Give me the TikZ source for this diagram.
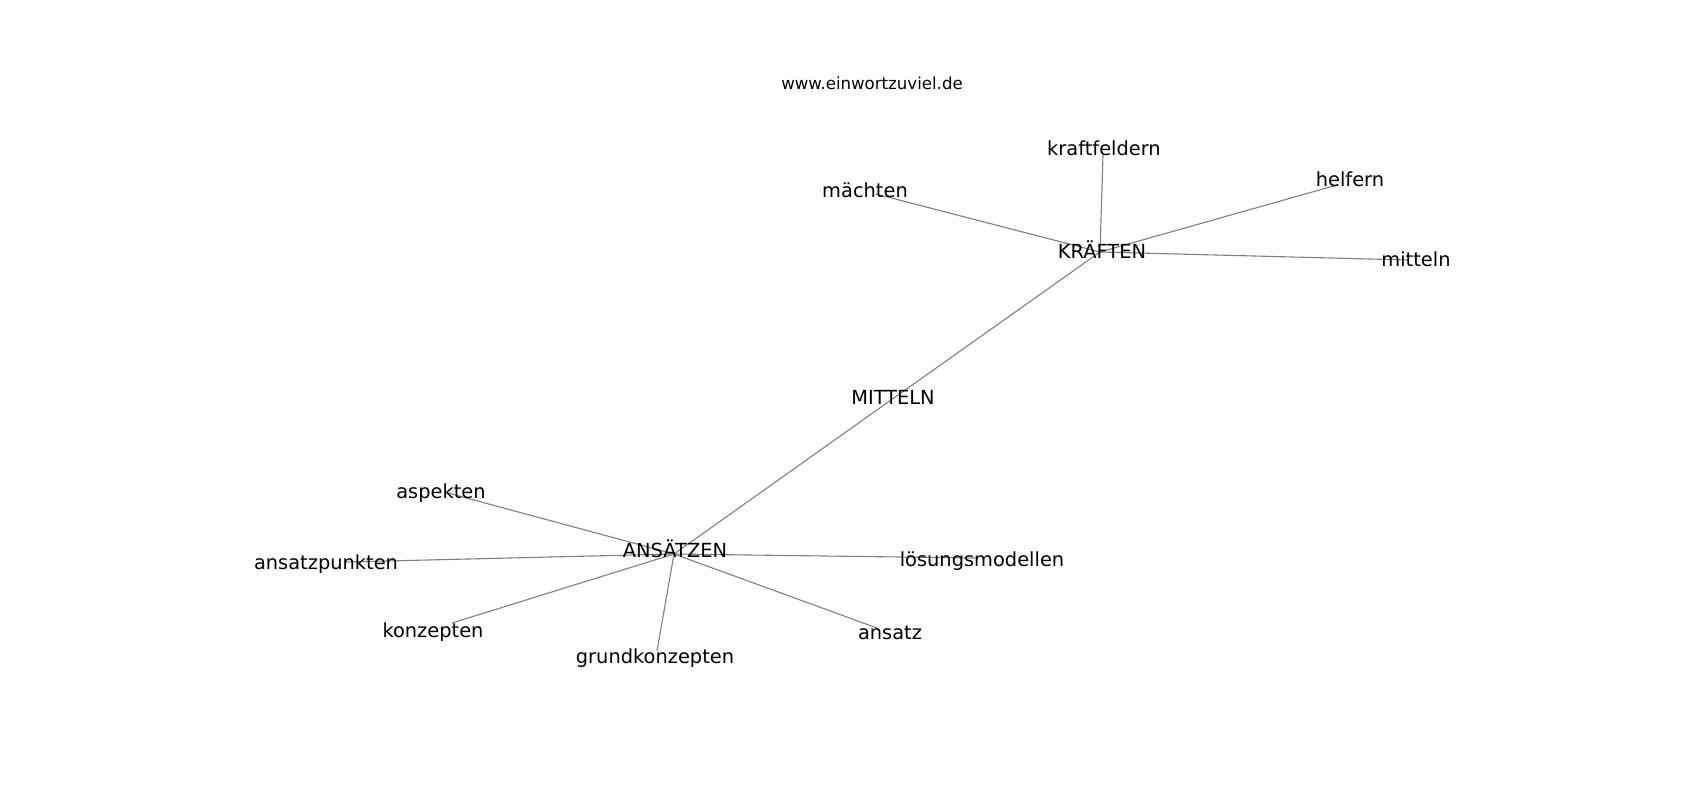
\documentclass[tikz,border=0pt]{standalone}
\usepackage{fontspec}
\setmainfont{DejaVu Sans}
\begin{document}
\begin{tikzpicture}[x=1pt,y=-1pt,
  lbl/.style={anchor=base,inner sep=0pt,font=\fontsize{19.4}{21}\selectfont,text=black},
  ttl/.style={anchor=base,inner sep=0pt,font=\fontsize{16.6}{18}\selectfont,text=black},
  edge/.style={draw=black!50,line width=1.1pt}]
\useasboundingbox[fill=white] (0,0) rectangle (1700,800);
% title
\node[ttl] (title) at (872,89) {www.einwortzuviel.de};
% node positions (edge end points)
\coordinate (kraefte) at (1100,252);
\coordinate (kraftf) at (1103,155);
\coordinate (helf) at (1337,185);
\coordinate (mitl) at (1408,260);
\coordinate (maech) at (876,194);
\coordinate (mitt) at (891,400);
\coordinate (ans) at (674,554);
\coordinate (asp) at (448,493);
\coordinate (anspkt) at (345,562);
\coordinate (konz) at (452,623);
\coordinate (grund) at (657,651);
\coordinate (loes) at (975,558);
\coordinate (ansatz) at (877,628);
% edges
\draw[edge] (kraefte) -- (kraftf);
\draw[edge] (kraefte) -- (helf);
\draw[edge] (kraefte) -- (mitl);
\draw[edge] (kraefte) -- (maech);
\draw[edge] (kraefte) -- (mitt);
\draw[edge] (mitt) -- (ans);
\draw[edge] (ans) -- (asp);
\draw[edge] (ans) -- (anspkt);
\draw[edge] (ans) -- (konz);
\draw[edge] (ans) -- (grund);
\draw[edge] (ans) -- (loes);
\draw[edge] (ans) -- (ansatz);
% labels
\node[lbl] (kraefte-t) at (1102,258) {KRÄFTEN};
\node[lbl] (kraftf-t) at (1104,155) {kraftfeldern};
\node[lbl] (helf-t) at (1350,186) {helfern};
\node[lbl] (mitl-t) at (1416,266) {mitteln};
\node[lbl] (maech-t) at (865,197) {mächten};
\node[lbl] (mitt-t) at (893,404) {MITTELN};
\node[lbl] (ans-t) at (675,557) {ANSÄTZEN};
\node[lbl] (asp-t) at (441,498) {aspekten};
\node[lbl] (anspkt-t) at (326,569) {ansatzpunkten};
\node[lbl] (konz-t) at (433,637) {konzepten};
\node[lbl] (grund-t) at (655,663) {grundkonzepten};
\node[lbl] (loes-t) at (982,566) {lösungsmodellen};
\node[lbl] (ansatz-t) at (890,639) {ansatz};
\end{tikzpicture}
\end{document}
